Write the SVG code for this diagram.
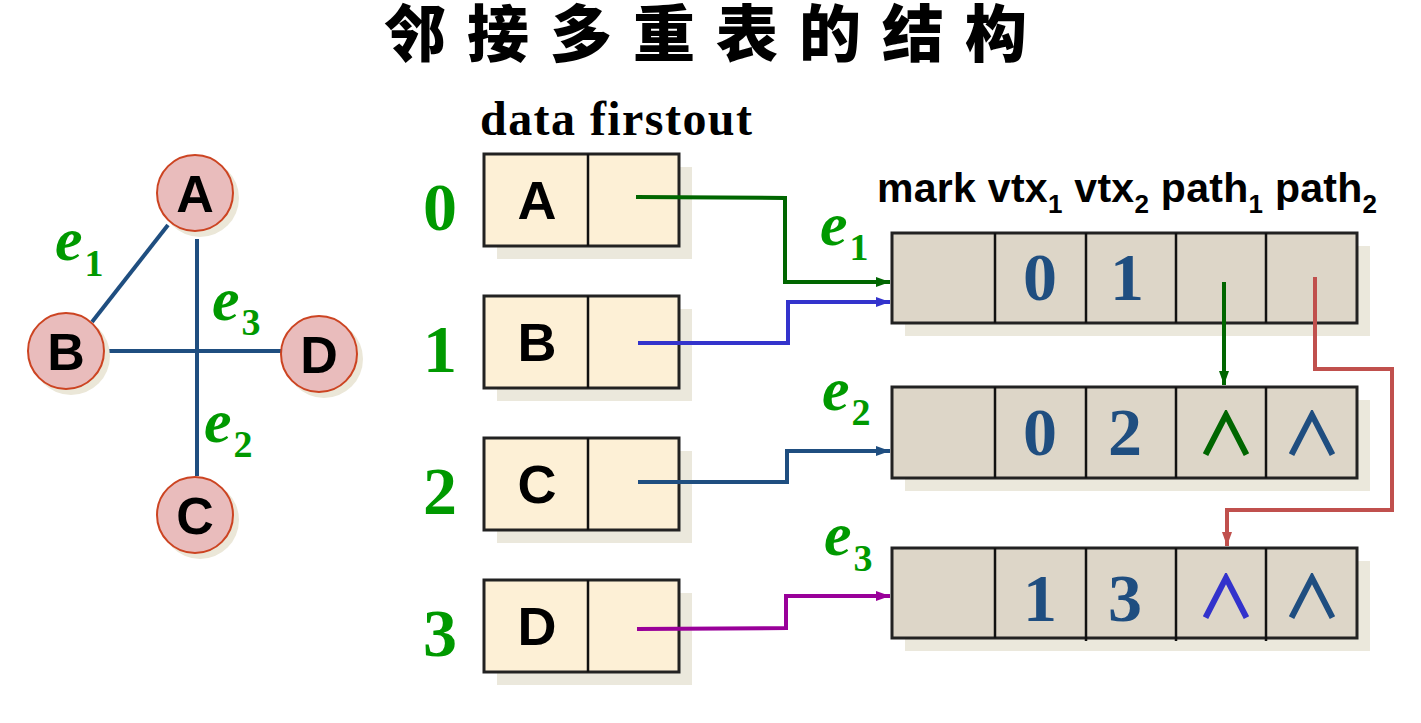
<svg xmlns="http://www.w3.org/2000/svg" width="1421" height="723" viewBox="0 0 1421 723">
<defs>
<style>
.title{font-family:"Noto Sans CJK SC","Noto Sans CJK JP",sans-serif;font-weight:900;font-size:62px;fill:#000}
.vc{fill:#e9bcbc;stroke:#cc4422;stroke-width:2}
.vcs{fill:#ebe7d8}
.vl{font-family:"Liberation Sans",Arial,sans-serif;font-weight:bold;font-size:52px;fill:#000;text-anchor:middle}
.edge{stroke:#1f4e80;stroke-width:4;fill:none}
.lab{font-family:"Liberation Serif","Times New Roman",serif;font-weight:bold;fill:#009900}
.e{font-style:italic;font-size:62px}
.sub{font-size:38px}
.idx{font-family:"Liberation Serif","Times New Roman",serif;font-weight:bold;font-size:68px;fill:#009900;text-anchor:middle}
.box{fill:#fdf0d6;stroke:#222;stroke-width:3}
.shadow{fill:#ebe8dc}
.bl{font-family:"Liberation Sans",Arial,sans-serif;font-weight:bold;font-size:54px;fill:#000;text-anchor:middle}
.ebox{fill:#ddd6c8;stroke:#222;stroke-width:3}
.div{stroke:#111;stroke-width:2.5}
.num{font-family:"Liberation Serif","Times New Roman",serif;font-weight:bold;font-size:68px;fill:#1f4e80;text-anchor:middle}
.hdr{font-family:"Liberation Sans",Arial,sans-serif;font-weight:bold;font-size:41px;fill:#000}
.hsub{font-size:26px}
.and{font-family:"Noto Sans CJK SC",sans-serif;font-size:56px;text-anchor:middle;stroke-width:2.2}
.c{fill:none;stroke-width:4}
</style>
<marker id="ag" markerWidth="14" markerHeight="10" refX="14" refY="5" orient="auto" markerUnits="userSpaceOnUse"><path d="M0,0 L14,5 L0,10 Z" fill="#006600"/></marker>
<marker id="ab" markerWidth="14" markerHeight="10" refX="14" refY="5" orient="auto" markerUnits="userSpaceOnUse"><path d="M0,0 L14,5 L0,10 Z" fill="#3333cc"/></marker>
<marker id="an" markerWidth="14" markerHeight="10" refX="14" refY="5" orient="auto" markerUnits="userSpaceOnUse"><path d="M0,0 L14,5 L0,10 Z" fill="#1f4e80"/></marker>
<marker id="ap" markerWidth="14" markerHeight="10" refX="14" refY="5" orient="auto" markerUnits="userSpaceOnUse"><path d="M0,0 L14,5 L0,10 Z" fill="#990099"/></marker>
<marker id="ar" markerWidth="14" markerHeight="10" refX="14" refY="5" orient="auto" markerUnits="userSpaceOnUse"><path d="M0,0 L14,5 L0,10 Z" fill="#c0504d"/></marker>
</defs>
<rect width="1421" height="723" fill="#fff"/>

<text class="title" x="384" y="57" letter-spacing="21">邻接多重表的结构</text>

<g id="graph-edges">
<line class="edge" x1="92" y1="322" x2="168" y2="225"/>
<line class="edge" x1="197" y1="239" x2="197" y2="476"/>
<line class="edge" x1="105" y1="351" x2="282" y2="351"/>
</g>

<g id="vertex-A"><circle class="vcs" cx="200" cy="198" r="39"/><circle class="vc" cx="195" cy="193" r="38"/><text class="vl" x="195" y="212">A</text></g>
<g id="vertex-B"><circle class="vcs" cx="71" cy="356" r="39"/><circle class="vc" cx="66" cy="351" r="38"/><text class="vl" x="66" y="370">B</text></g>
<g id="vertex-D"><circle class="vcs" cx="324" cy="359" r="39"/><circle class="vc" cx="319" cy="354" r="38"/><text class="vl" x="319" y="373">D</text></g>
<g id="vertex-C"><circle class="vcs" cx="200" cy="520" r="39"/><circle class="vc" cx="195" cy="515" r="38"/><text class="vl" x="195" y="534">C</text></g>

<g id="graph-labels">
<text class="lab" x="55" y="260"><tspan class="e">e</tspan><tspan class="sub" dx="2" dy="16">1</tspan></text>
<text class="lab" x="212" y="320"><tspan class="e">e</tspan><tspan class="sub" dx="2" dy="15">3</tspan></text>
<text class="lab" x="204" y="442"><tspan class="e">e</tspan><tspan class="sub" dx="2" dy="15">2</tspan></text>
</g>

<text x="480" y="135" font-family="Liberation Serif, Times New Roman, serif" font-weight="bold" font-size="48" textLength="272" fill="#000">data firstout</text>

<g id="row-0"><text class="idx" x="440" y="230">0</text><rect class="shadow" x="497" y="167" width="195" height="92"/><rect class="box" x="484" y="154" width="195" height="92"/><line class="div" x1="588" y1="154" x2="588" y2="246"/><text class="bl" x="537" y="219">A</text></g>
<g id="row-1"><text class="idx" x="440" y="372">1</text><rect class="shadow" x="497" y="309" width="195" height="92"/><rect class="box" x="484" y="296" width="195" height="92"/><line class="div" x1="588" y1="296" x2="588" y2="388"/><text class="bl" x="537" y="361">B</text></g>
<g id="row-2"><text class="idx" x="440" y="514">2</text><rect class="shadow" x="497" y="451" width="195" height="92"/><rect class="box" x="484" y="438" width="195" height="92"/><line class="div" x1="588" y1="438" x2="588" y2="530"/><text class="bl" x="537" y="503">C</text></g>
<g id="row-3"><text class="idx" x="440" y="656">3</text><rect class="shadow" x="497" y="593" width="195" height="92"/><rect class="box" x="484" y="580" width="195" height="92"/><line class="div" x1="588" y1="580" x2="588" y2="672"/><text class="bl" x="537" y="645">D</text></g>

<text class="hdr" x="877" y="202" textLength="500" lengthAdjust="spacing">mark vtx<tspan class="hsub" dy="11">1</tspan><tspan dy="-11"> vtx</tspan><tspan class="hsub" dy="11">2</tspan><tspan dy="-11"> path</tspan><tspan class="hsub" dy="11">1</tspan><tspan dy="-11"> path</tspan><tspan class="hsub" dy="11">2</tspan></text>

<g id="edge-e1">
<rect class="shadow" x="905" y="246" width="465" height="90"/>
<rect class="ebox" x="892" y="233" width="465" height="90"/>
<line class="div" x1="995" y1="233" x2="995" y2="323"/><line class="div" x1="1086" y1="233" x2="1086" y2="323"/><line class="div" x1="1176" y1="233" x2="1176" y2="323"/><line class="div" x1="1266" y1="233" x2="1266" y2="323"/>
<text class="num" x="1040" y="300">0</text><text class="num" x="1127" y="300">1</text>
<text class="lab" x="820" y="245"><tspan class="e">e</tspan><tspan class="sub" dx="2" dy="15">1</tspan></text>
</g>
<g id="edge-e2">
<rect class="shadow" x="905" y="400" width="465" height="91"/>
<rect class="ebox" x="892" y="387" width="465" height="91"/>
<line class="div" x1="995" y1="387" x2="995" y2="478"/><line class="div" x1="1086" y1="387" x2="1086" y2="478"/><line class="div" x1="1176" y1="387" x2="1176" y2="478"/><line class="div" x1="1266" y1="387" x2="1266" y2="478"/>
<text class="num" x="1040" y="455">0</text><text class="num" x="1125" y="455">2</text>
<text class="and" x="1226" y="454" fill="#006600" stroke="#006600">∧</text><text class="and" x="1312" y="454" fill="#1f4e80" stroke="#1f4e80">∧</text>
<text class="lab" x="822" y="410"><tspan class="e">e</tspan><tspan class="sub" dx="2" dy="15">2</tspan></text>
</g>
<g id="edge-e3">
<rect class="shadow" x="905" y="561" width="465" height="90"/>
<rect class="ebox" x="892" y="548" width="465" height="90"/>
<line class="div" x1="995" y1="548" x2="995" y2="638"/><line class="div" x1="1086" y1="548" x2="1086" y2="641"/><line class="div" x1="1176" y1="548" x2="1176" y2="641"/><line class="div" x1="1266" y1="548" x2="1266" y2="641"/>
<text class="num" x="1040" y="621">1</text><text class="num" x="1125" y="621">3</text>
<text class="and" x="1226" y="617" fill="#3333cc" stroke="#3333cc">∧</text><text class="and" x="1312" y="617" fill="#1f4e80" stroke="#1f4e80">∧</text>
<text class="lab" x="824" y="555"><tspan class="e">e</tspan><tspan class="sub" dx="2" dy="16">3</tspan></text>
</g>

<g id="connectors">
<path class="c" stroke="#006600" d="M636,197 L785,198 L785,282 L890,282" marker-end="url(#ag)"/>
<path class="c" stroke="#3333cc" d="M638,343 L788,343 L788,302 L890,302" marker-end="url(#ab)"/>
<path class="c" stroke="#1f4e80" d="M638,482 L787,482 L787,451 L890,451" marker-end="url(#an)"/>
<path class="c" stroke="#990099" d="M637,629 L786,628 L786,596 L890,596" marker-end="url(#ap)"/>
<path class="c" stroke="#006600" d="M1224,282 L1224,385" marker-end="url(#ag)"/>
<path class="c" stroke="#c0504d" d="M1315,277 L1315,369 L1392,369 L1392,510 L1227,510 L1227,546" marker-end="url(#ar)"/>
</g>
</svg>
